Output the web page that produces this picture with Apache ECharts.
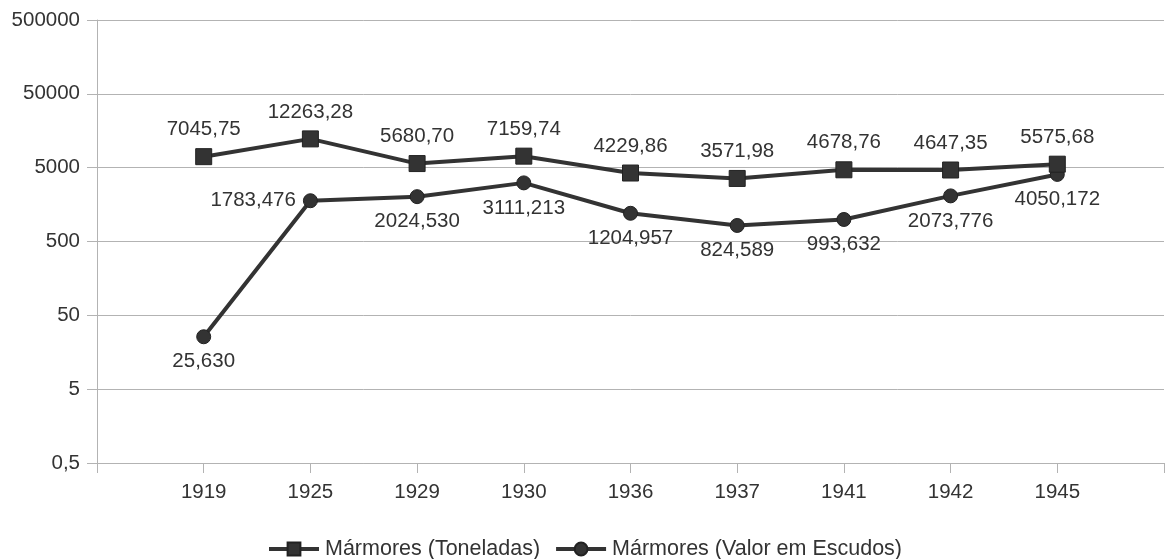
<!DOCTYPE html>
<html>
<head>
<meta charset="utf-8">
<script src="https://cdn.jsdelivr.net/npm/echarts@6/dist/echarts.min.js"></script>
<style>
  html, body { margin: 0; padding: 0; background: #fff; }
  #chart { width: 1167px; height: 559px; }
</style>
</head>
<body>
<div id="chart"></div>
<script>
// Marble production by year: tonnage and value (escudos)
const years = ['1919', '1925', '1929', '1930', '1936', '1937', '1941', '1942', '1945'];
const toneladas = [7045.75, 12263.28, 5680.70, 7159.74, 4229.86, 3571.98, 4678.76, 4647.35, 5575.68];
const escudos = [25.630, 1783.476, 2024.530, 3111.213, 1204.957, 824.589, 993.632, 2073.776, 4050.172];
const yTicks = [0.5, 5, 50, 500, 5000, 50000, 500000];

const seriesNames = ['Mármores (Toneladas)', 'Mármores (Valor em Escudos)'];

// empty slots either side of the years give the axis its outer margins
const categories = [''].concat(years, ['']);
const pad = arr => [null].concat(arr, [null]);

const ink = '#333333';
const font = 'Liberation Sans, Arial, sans-serif';
const fs = 20.5;
const comma = (v, d) => v.toFixed(d).replace('.', ',');

const chart = echarts.init(document.getElementById('chart'), null, { renderer: 'canvas' });

const escudosData = pad(escudos).map((v, i) => {
  if (v === null) return null;
  if (categories[i] === '1925') {
    return { value: v, label: { position: 'left', distance: 7 } };
  }
  return v;
});

chart.setOption({
  animation: false,
  backgroundColor: '#ffffff',
  textStyle: { fontFamily: font, color: ink },
  grid: { left: 97, right: 0, top: 20, bottom: 96, containLabel: false },
  legend: {
    data: seriesNames,
    top: 533,
    left: 262,
    itemWidth: 50,
    itemHeight: 16,
    itemGap: 14,
    lineStyle: { width: 4 },
    textStyle: { fontFamily: font, fontSize: 21.5, color: ink, padding: [0, 0, 0, 1] },
    inactiveColor: '#ccc'
  },
  xAxis: {
    type: 'category',
    data: categories,
    boundaryGap: false,
    axisLine: { show: true, lineStyle: { color: '#b3b3b3', width: 1 } },
    axisTick: { show: true, length: 10, lineStyle: { color: '#b3b3b3' } },
    axisLabel: { color: ink, fontSize: fs, fontFamily: font, margin: 19, interval: 0 },
    splitLine: { show: false }
  },
  yAxis: {
    type: 'log',
    logBase: 10,
    min: 0.5,
    max: 500000,
    axisLine: { show: true, lineStyle: { color: '#b3b3b3', width: 1 } },
    axisTick: { show: true, length: 10, customValues: yTicks, lineStyle: { color: '#b3b3b3' } },
    axisLabel: {
      customValues: yTicks,
      color: ink,
      fontSize: fs,
      fontFamily: font,
      margin: 17,
      formatter: v => String(v).replace('.', ',')
    },
    splitLine: { show: true, lineStyle: { color: '#b3b3b3', width: 1 } }
  },
  series: [
    {
      name: seriesNames[0],
      type: 'line',
      z: 3,
      data: pad(toneladas),
      symbol: 'rect',
      symbolSize: 16,
      lineStyle: { color: ink, width: 4 },
      itemStyle: { color: ink, borderColor: '#222', borderWidth: 1 },
      label: {
        show: true,
        position: 'top',
        distance: 8,
        color: ink,
        fontSize: fs,
        fontFamily: font,
        formatter: p => comma(p.value, 2)
      },
      emphasis: { disabled: true }
    },
    {
      name: seriesNames[1],
      type: 'line',
      z: 2,
      data: escudosData,
      symbol: 'circle',
      symbolSize: 14,
      lineStyle: { color: ink, width: 4 },
      itemStyle: { color: ink, borderColor: '#222', borderWidth: 1 },
      label: {
        show: true,
        position: 'bottom',
        distance: 7,
        color: ink,
        fontSize: fs,
        fontFamily: font,
        formatter: p => comma(typeof p.value === 'number' ? p.value : p.data.value, 3)
      },
      emphasis: { disabled: true }
    }
  ]
});
</script>
</body>
</html>
